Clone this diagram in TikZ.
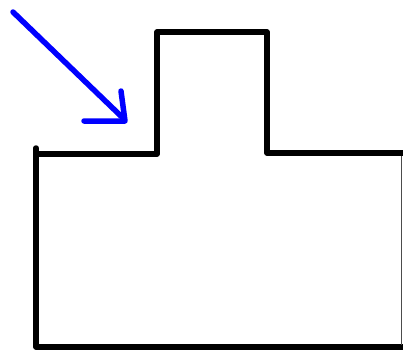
\documentclass[tikz,border=0pt]{standalone}
\begin{document}
\begin{tikzpicture}[x=1pt,y=-1pt,
  outline/.style={line width=5.5pt,black,line join=round,line cap=round},
  thinedge/.style={line width=1.2pt,black!70},
  bluearrow/.style={line width=5.5pt,blue,line cap=round,line join=round}]
\useasboundingbox (0,0) rectangle (403,351);
\fill[white] (0,0) rectangle (403,351);
% shape
\draw[outline] (36,148) -- (36,347) -- (403,347);
\draw[outline] (36,154) -- (157,154) -- (157,32) -- (267,32) -- (267,153) -- (403,153);
\draw[thinedge] (401.5,156) -- (401.5,345);
% arrow
\coordinate (s) at (13,12);
\coordinate (e) at (124,119);
\draw[bluearrow] (s) -- (e);
\draw[bluearrow] (121,91) -- (125,121) -- (84,121);
\end{tikzpicture}
\end{document}
